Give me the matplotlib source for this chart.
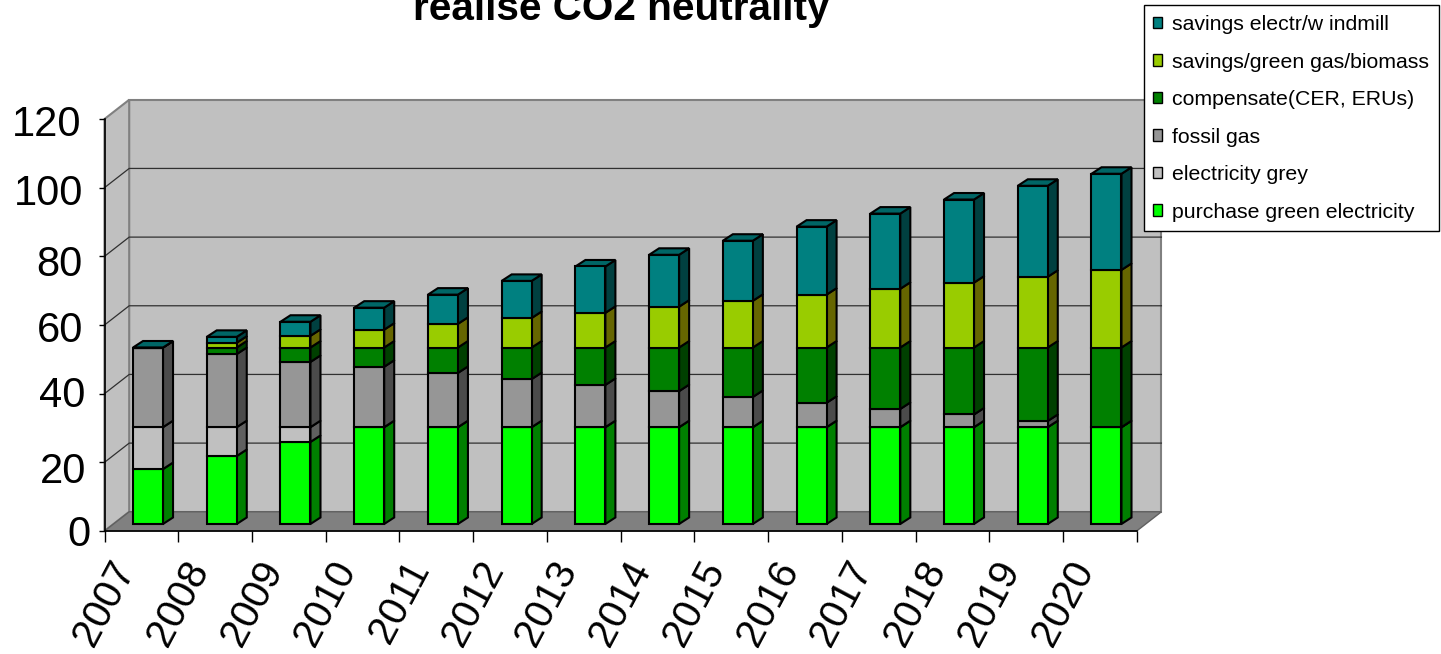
import matplotlib
matplotlib.use('Agg')
import matplotlib.pyplot as plt
from matplotlib.patches import Patch
from matplotlib.transforms import Affine2D

plt.rcParams['font.family'] = ['Liberation Sans', 'DejaVu Sans']

# ---------------------------------------------------------------------
# data
# ---------------------------------------------------------------------
years = [2007, 2008, 2009, 2010, 2011, 2012, 2013, 2014, 2015, 2016, 2017, 2018, 2019, 2020]
green_electricity = [16, 19.8, 23.9, 28.2, 28.2, 28.2, 28.2, 28.2, 28.2, 28.2, 28.2, 28.2, 28.2, 28.2]
electricity_grey = [12.2, 8.4, 4.3, 0, 0, 0, 0, 0, 0, 0, 0, 0, 0, 0]
fossil_gas = [23.2, 21.3, 19, 17.6, 15.8, 14, 12.3, 10.5, 8.8, 7.1, 5.3, 3.7, 1.8, 0]
compensate = [0, 1.9, 4.2, 5.6, 7.4, 9.2, 10.9, 12.7, 14.4, 16.1, 17.9, 19.5, 21.4, 23.2]
biomass = [0, 1.4, 3.4, 5.2, 6.9, 8.6, 10.1, 11.9, 13.6, 15.4, 17.1, 18.9, 20.6, 22.6]
windmill = [0, 1.7, 4.1, 6.4, 8.5, 10.8, 13.5, 15.1, 17.5, 19.8, 21.9, 24.2, 26.5, 28]

series = [green_electricity, electricity_grey, fossil_gas, compensate, biomass, windmill]
labels = ['purchase green electricity', 'electricity grey', 'fossil gas',
          'compensate(CER, ERUs)', 'savings/green gas/biomass', 'savings electr/w indmill']
front_colors = ['#00FF00', '#C0C0C0', '#969696', '#008000', '#99CC00', '#008080']
side_colors = ['#008000', '#606060', '#4B4B4B', '#004000', '#666600', '#004040']
top_color = '#006666'

W, H = 1441, 654
fig = plt.figure(figsize=(W / 100, H / 100), dpi=100)

# front axis runs from (104.5, 531) to (1136.7, 119) in pixels
ax = fig.add_axes([104.5 / W, 1 - 531 / H, (1136.7 - 104.5) / W, (531 - 119) / H])
ax.set_xlim(0, 14)
ax.set_ylim(0, 120)
ax.patch.set_visible(False)

# depth of the box and of the bars, in data units
box_dx, box_dy = 0.335, 5.6
bar_dx, bar_dy = 0.136, 1.9
bar_width = 0.407
shift_x, shift_y = 0.09, 2.04
line_w = 1.5

# ---------------------------------------------------------------------
# walls, floor, gridlines
# ---------------------------------------------------------------------
ax.fill([box_dx, 14 + box_dx, 14 + box_dx, box_dx], [box_dy, box_dy, 120 + box_dy, 120 + box_dy],
        facecolor='#C0C0C0', edgecolor='#808080', lw=1.5, clip_on=False, zorder=1)
ax.fill([0, box_dx, box_dx, 0], [0, box_dy, 120 + box_dy, 120],
        facecolor='#C0C0C0', edgecolor='#808080', lw=1.5, clip_on=False, zorder=1)
ax.fill([0, 14, 14 + box_dx, box_dx], [0, 0, box_dy, box_dy],
        facecolor='#808080', edgecolor='#606060', lw=1, clip_on=False, zorder=1)

for tick in [20, 40, 60, 80, 100]:
    ax.plot([0, box_dx, 14 + box_dx], [tick, tick + box_dy, tick + box_dy],
            color='#303030', lw=0.9, clip_on=False, zorder=2)

# ---------------------------------------------------------------------
# stacked bars, each with a side face and a top face
# ---------------------------------------------------------------------
bottoms = [shift_y] * len(years)
centers = [i + 0.5 + shift_x for i in range(len(years))]

for k, values in enumerate(series):
    ax.bar(centers, values, bar_width, bottom=bottoms, color=front_colors[k],
           edgecolor='black', lw=line_w, clip_on=False, zorder=5, label=labels[k])
    for i, value in enumerate(values):
        right = centers[i] + bar_width / 2
        ax.fill([right, right + bar_dx, right + bar_dx, right],
                [bottoms[i], bottoms[i] + bar_dy, bottoms[i] + value + bar_dy, bottoms[i] + value],
                facecolor=side_colors[k], edgecolor='black', lw=line_w, clip_on=False, zorder=4)
    bottoms = [b + v for b, v in zip(bottoms, values)]

for i, top in enumerate(bottoms):
    left = centers[i] - bar_width / 2
    right = centers[i] + bar_width / 2
    ax.fill([left, right, right + bar_dx, left + bar_dx], [top, top, top + bar_dy, top + bar_dy],
            facecolor=top_color, edgecolor='black', lw=line_w, clip_on=False, zorder=4)

# ---------------------------------------------------------------------
# axes and labels
# ---------------------------------------------------------------------
for side in ['top', 'right']:
    ax.spines[side].set_visible(False)
for side in ['left', 'bottom']:
    ax.spines[side].set_linewidth(1.2)
    ax.spines[side].set_zorder(3)

ax.set_yticks([0, 20, 40, 60, 80, 100, 120])
ax.tick_params(axis='y', labelsize=30, length=4, width=1, pad=13)
ax.set_xticks(range(15))
ax.set_xticklabels([str(y) for y in years] + [''], rotation=62, fontsize=29)
ax.tick_params(axis='x', length=8, width=1, pad=9)

# the y labels sit a little unevenly in the original, offsets in pixels
label_nudge = [(10, 0), (5, -5.5), (4, 2), (2, -2), (2, -4), (2, -2), (0, -1.5)]
for label, (nudge_x, nudge_y) in zip(ax.get_yticklabels(), label_nudge):
    label.set_transform(label.get_transform() + Affine2D().translate(nudge_x, nudge_y))

fig.text(621 / W, 1 - 20 / H, 'realise CO2 neutrality', ha='center', va='baseline',
         fontsize=29.2, fontweight='bold')

# ---------------------------------------------------------------------
# legend
# ---------------------------------------------------------------------
handles = [Patch(facecolor=c, edgecolor='black', lw=1) for c in front_colors]
leg = fig.legend(handles[::-1], labels[::-1], loc='upper left',
                 bbox_to_anchor=(1143.5 / W, 1 - 5.3 / H), borderaxespad=0,
                 fontsize=15.3, fancybox=False, framealpha=1, edgecolor='black',
                 handlelength=0.42, handleheight=0.47, handletextpad=0.45,
                 labelspacing=0.87, borderpad=0.46)
leg.get_frame().set_linewidth(1)
leg.set_zorder(10)

plt.savefig('out.png', dpi=100)
